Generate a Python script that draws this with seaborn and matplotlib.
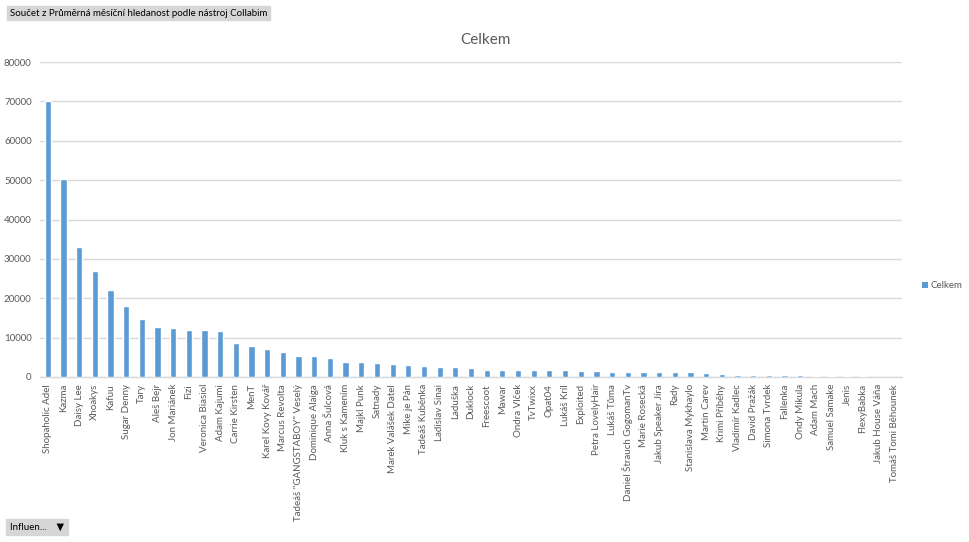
import matplotlib
matplotlib.use("Agg")
import matplotlib.pyplot as plt
import seaborn as sns
import pandas as pd
from matplotlib.patches import Patch

names = [
    "Shopaholic Adel", "Kazma", "Daisy Lee", "Xhoakys", "Kafuu", "Sugar Denny", "Tary",
    "Aleš Bejr", "Jon Mariánek", "Fizi", "Veronica Biasiol", "Adam Kajumi", "Carrie Kirsten",
    "MenT", "Karel Kovy Kovář", "Marcus Revolta", "Tadeáš \"GANGSTABOY\" Veselý",
    "Dominique Alaiga", "Anna Šulcová", "Kluk s Kamením", "Majkl Punk", "Satnady",
    "Marek Valášek Datel", "Mike je Pán", "Tadeáš Kuběnka", "Ladislav Sinai", "Laduška",
    "Duklock", "Freescoot", "Mawar", "Ondra Vlček", "TvTwixx", "Opat04", "Lukáš Kríl",
    "Exploited", "Petra LovelyHair", "Lukáš Tůma", "Daniel Štrauch GogomanTv",
    "Marie Rosecká", "Jakub Speaker Jíra", "Rady", "Stanislava Mykhaylo", "Martin Carev",
    "Krimi Příběhy", "Vladimír Kadlec", "David Pražák", "Simona Tvrdek", "Fallenka",
    "Ondy Mikula", "Adam Mach", "Samuel Samake", "Jenis", "FlexyBabka",
    "Jakub House Váňa", "Tomáš Tomi Běhounek",
]
values = [
    70200, 50400, 33000, 26900, 22100, 18000, 14700, 12700, 12400, 11900, 11900, 11600,
    8600, 7900, 7100, 6300, 5300, 5300, 4800, 3800, 3800, 3500, 3300, 3000, 2700, 2500,
    2500, 2300, 1800, 1800, 1800, 1800, 1800, 1800, 1500, 1500, 1300, 1300, 1300, 1300,
    1300, 1300, 1000, 800, 500, 500, 500, 500, 500, 300, 300, 300, 300, 0, 0,
]
yticks = [0, 10000, 20000, 30000, 40000, 50000, 60000, 70000, 80000]

df = pd.DataFrame({"name": names, "value": values})

sns.set_theme(style="white")
plt.rcParams["font.family"] = ["Lato", "DejaVu Sans"]

fig = plt.figure(figsize=(9.7, 5.42), dpi=100)
ax = fig.add_axes([40 / 970, 1 - 377 / 542, 862 / 970, 315 / 542])

sns.barplot(data=df, x="name", y="value", color="#5B9BD5", width=0.4,
            saturation=1, ax=ax, zorder=3)

ax.set_xlim(-0.5, len(names) - 0.5)
ax.set_ylim(0, 80000)
ax.set_yticks(yticks)
ax.set_yticklabels([str(v) for v in yticks])
ax.yaxis.grid(True, color="#D9D9D9", linewidth=1)
ax.set_axisbelow(True)
for s in ["top", "left", "right"]:
    ax.spines[s].set_visible(False)
ax.spines["bottom"].set_color("#D9D9D9")
ax.spines["bottom"].set_linewidth(1)
ax.tick_params(axis="both", length=0, colors="#595959")
ax.tick_params(axis="y", pad=6, labelsize=7)
ax.tick_params(axis="x", pad=5, labelsize=7)
plt.setp(ax.get_xticklabels(), rotation=90)
ax.set_xlabel("")
ax.set_ylabel("")

fig.text(485 / 970, 1 - 40 / 542, "Celkem", ha="center", va="center",
         fontsize=11, color="#595959")

ax.legend(handles=[Patch(facecolor="#5B9BD5", edgecolor="none", label="Celkem")],
          loc="center left", bbox_to_anchor=(913 / 970, 1 - 286 / 542),
          bbox_transform=fig.transFigure, frameon=False, fontsize=7,
          handlelength=0.6, handleheight=0.6, handletextpad=0.3,
          labelcolor="#595959")

fig.text(10 / 970, 1 - 13 / 542, "Součet z Průměrná měsíční hledanost podle nástroj Collabim",
         ha="left", va="center", fontsize=7, color="#000000",
         bbox=dict(boxstyle="square,pad=0.3", facecolor="#D6D6D6", edgecolor="#D6D6D6"))
fig.text(10 / 970, 1 - 527 / 542, "Influen...    \u25BC",
         ha="left", va="center", fontsize=7, color="#000000",
         family=["Lato", "DejaVu Sans"],
         bbox=dict(boxstyle="square,pad=0.4", facecolor="#D6D6D6", edgecolor="#D6D6D6"))

fig.savefig("out.png", dpi=100, facecolor="white")
